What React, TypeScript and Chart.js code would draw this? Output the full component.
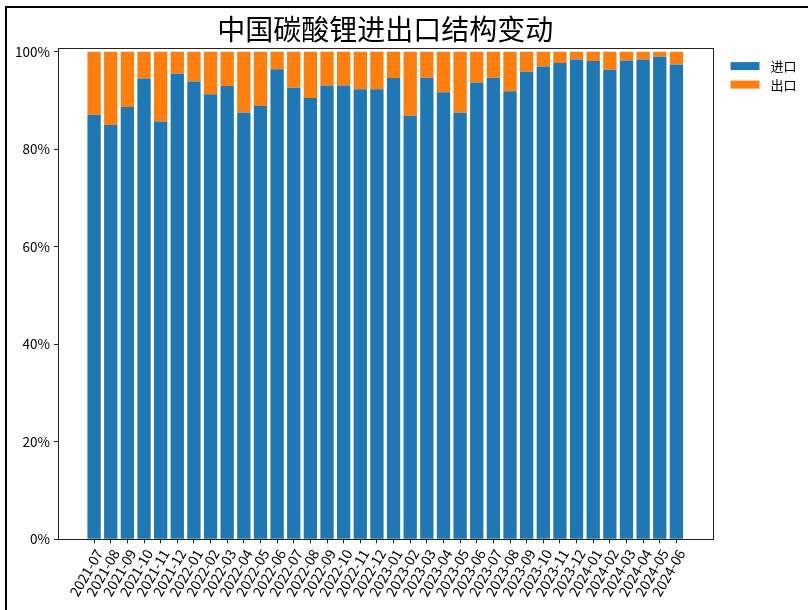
import React, { useEffect, useRef } from 'react';
import { Chart, registerables } from 'chart.js';

Chart.register(...registerables);

const chartTitle = '中国碳酸锂进出口结构变动';

const months = [
  '2021-07', '2021-08', '2021-09', '2021-10', '2021-11', '2021-12',
  '2022-01', '2022-02', '2022-03', '2022-04', '2022-05', '2022-06',
  '2022-07', '2022-08', '2022-09', '2022-10', '2022-11', '2022-12',
  '2023-01', '2023-02', '2023-03', '2023-04', '2023-05', '2023-06',
  '2023-07', '2023-08', '2023-09', '2023-10', '2023-11', '2023-12',
  '2024-01', '2024-02', '2024-03', '2024-04', '2024-05', '2024-06',
];

// share of imports (%)
const importShare = [
  87.1, 85.0, 88.7, 94.5, 85.7, 95.5,
  93.9, 91.3, 93.0, 87.5, 88.9, 96.4,
  92.6, 90.5, 93.1, 93.1, 92.3, 92.3,
  94.6, 86.9, 94.7, 91.7, 87.5, 93.7,
  94.7, 91.9, 95.9, 97.0, 97.7, 98.4,
  98.1, 96.3, 98.2, 98.4, 99.0, 97.4,
];

// share of exports (%)
const exportShare = [
  12.9, 15.0, 11.3, 5.5, 14.3, 4.5,
  6.1, 8.7, 7.0, 12.5, 11.1, 3.6,
  7.4, 9.5, 6.9, 6.9, 7.7, 7.7,
  5.4, 13.1, 5.3, 8.3, 12.5, 6.3,
  5.3, 8.1, 4.1, 3.0, 2.3, 1.6,
  1.9, 3.7, 1.8, 1.6, 1.0, 2.6,
];

const seriesNames = ['进口', '出口'];
const seriesColors = ['#1f77b4', '#ff7f0e'];
const yTickValues = [0, 20, 40, 60, 80, 100];

const FONT = '"Noto Sans CJK SC", "Noto Sans", sans-serif';

export default function App() {
  const canvasRef = useRef<HTMLCanvasElement | null>(null);

  useEffect(() => {
    const canvas = canvasRef.current;
    if (!canvas) return;

    const framePlugin = {
      id: 'frameBox',
      afterDraw(chart: any) {
        const { ctx, chartArea: a } = chart;
        ctx.save();
        ctx.strokeStyle = '#222';
        ctx.lineWidth = 1;
        ctx.strokeRect(Math.round(a.left) + 0.5, Math.round(a.top) + 0.5,
          Math.round(a.right) - Math.round(a.left), Math.round(a.bottom) - Math.round(a.top));
        ctx.restore();
      },
    };

    const legendPlugin = {
      id: 'sideLegend',
      afterDraw(chart: any) {
        const { ctx, chartArea: a } = chart;
        ctx.save();
        ctx.font = `13px ${FONT}`;
        ctx.textBaseline = 'middle';
        ctx.textAlign = 'left';
        chart.data.datasets.forEach((ds: any, i: number) => {
          const cy = a.top + 18.5 + i * 18.5;
          ctx.fillStyle = ds.backgroundColor;
          ctx.fillRect(a.right + 18, cy - 4, 29, 8);
          ctx.fillStyle = '#000';
          ctx.fillText(ds.label, a.right + 58, cy);
        });
        ctx.restore();
      },
    };

    const chart = new Chart(canvas, {
      type: 'bar',
      data: {
        datasets: [
          {
            label: seriesNames[0],
            data: importShare.map((v, i) => ({ x: i, y: v })),
            backgroundColor: seriesColors[0],
            borderWidth: 0,
            barPercentage: 1,
            categoryPercentage: 0.8,
          },
          {
            label: seriesNames[1],
            data: exportShare.map((v, i) => ({ x: i, y: v })),
            backgroundColor: seriesColors[1],
            borderWidth: 0,
            barPercentage: 1,
            categoryPercentage: 0.8,
          },
        ],
      },
      options: {
        animation: false,
        responsive: false,
        devicePixelRatio: 1,
        layout: { padding: { left: 0, right: 95.5, top: 0, bottom: 0 } },
        plugins: {
          legend: { display: false },
          tooltip: { enabled: false },
          title: {
            display: true,
            text: chartTitle,
            fullSize: false,
            color: '#000',
            font: { family: FONT, size: 28, weight: 'normal', lineHeight: 1.2 },
            padding: { top: 13, bottom: 1 },
          },
        },
        scales: {
          x: {
            type: 'linear',
            stacked: true,
            offset: false,
            min: -2.17,
            max: 37.17,
            border: { display: false },
            grid: {
              display: true,
              offset: false,
              drawOnChartArea: false,
              drawTicks: true,
              tickLength: 4,
              color: '#222',
            },
            afterBuildTicks: (scale: any) => {
              scale.ticks = months.map((_, i) => ({ value: i }));
            },
            afterFit: (scale: any) => {
              scale.height = 70.7;
            },
            ticks: {
              autoSkip: false,
              minRotation: 60,
              maxRotation: 60,
              padding: 3,
              labelOffset: 5,
              color: '#000',
              font: { family: FONT, size: 14 },
              callback: (value: any) => months[value] ?? '',
            },
          },
          y: {
            type: 'linear',
            stacked: true,
            min: 0,
            max: 100.86,
            border: { display: false },
            grid: {
              display: true,
              drawOnChartArea: false,
              drawTicks: true,
              tickLength: 4,
              color: '#222',
            },
            afterBuildTicks: (scale: any) => {
              scale.ticks = yTickValues.map((v) => ({ value: v }));
            },
            afterFit: (scale: any) => {
              scale.width = 58;
            },
            ticks: {
              padding: 4,
              color: '#000',
              font: { family: FONT, size: 13.5 },
              callback: (value: any) => `${value}%`,
            },
          },
        },
      },
      plugins: [framePlugin, legendPlugin],
    } as any);

    return () => {
      chart.destroy();
    };
  }, []);

  return (
    <div style={{ position: 'fixed', left: 0, top: 0, width: 808, height: 610, background: '#fff', overflow: 'hidden' }}>
      <canvas ref={canvasRef} width={808} height={610} style={{ position: 'absolute', left: 0, top: 0, width: 808, height: 610 }} />
      <div
        style={{
          position: 'absolute',
          left: 5,
          top: 6,
          right: 0,
          bottom: 0,
          borderLeft: '2px solid #000',
          borderTop: '2px solid #000',
          pointerEvents: 'none',
        }}
      />
    </div>
  );
}
